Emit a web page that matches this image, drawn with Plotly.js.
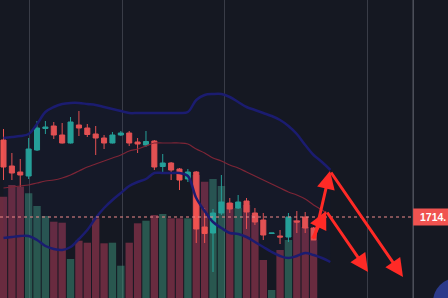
<!DOCTYPE html>
<html><head><meta charset="utf-8">
<script src="https://cdn.plot.ly/plotly-3.0.1.min.js"></script>
<style>html,body{margin:0;padding:0;background:#151822;overflow:hidden}#chart{width:448px;height:298px}</style>
</head><body><div id="chart"></div>
<script>
// candle index (time slots)
const candleIdx = [0,1,2,3,4,5,6,7,8,9,10,11,12,13,14,15,16,17,18,19,20,21,22,23,24,25,26,27,28,29,30,31,32,33,34,35,36,37];
const opens  = [1753,1740,1737,1735,1748,1758.75,1760,1755.5,1751.5,1760.5,1759,1756,1754,1751.5,1755.5,1756.5,1752,1750.5,1752.5,1739.75,1741.5,1738.5,1733.5,1737,1709.5,1706.5,1716.5,1721.5,1719,1722.5,1716.5,1713,1706.25,1705,1704.5,1712.5,1714.5,1709];
const highs  = [1758.5,1746.5,1743.5,1754,1762.5,1762.5,1762,1761.5,1764.5,1767.5,1761,1760,1755.5,1757,1757.5,1757.5,1754,1757.5,1753,1746,1742,1739,1738.5,1737.5,1719,1718.5,1735.5,1724,1725.5,1724,1719,1716.5,1706.5,1708,1716.5,1717.5,1717,1709.5];
const lows   = [1733,1733,1729.5,1733.5,1747.5,1756,1753.5,1751.25,1751.25,1755,1754.5,1745.5,1748.5,1751.25,1755,1750,1746.5,1749.5,1738,1737,1733,1728,1732,1701.5,1701.5,1687,1715.5,1716.5,1718.5,1708.5,1710.5,1703,1706,1701,1702,1706.5,1706.5,1703];
const closes = [1739.5,1736.5,1735.5,1748.5,1759,1759.5,1755.5,1751.5,1762,1759,1755.75,1754,1751.5,1755.5,1756.5,1751.5,1751,1752.25,1739.5,1741.5,1738,1733,1737,1708.5,1706.25,1716.5,1722,1718.5,1722,1717,1712,1705.5,1706.5,1704.5,1714.5,1712,1709,1703];
const volumes = [20260,22600,22260,20940,18400,16400,15260,15060,7800,11460,11060,15940,10940,11060,6460,11060,14940,15460,16600,16800,15940,15940,15940,24600,23260,23800,22400,19000,18000,18600,16600,7600,1600,9600,11600,15600,14200,11600];
// Bollinger bands (extend slightly past the last candle)
const bandIdx = [0,1,2,3,4,5,6,7,8,9,10,11,12,13,14,15,16,17,18,19,20,21,22,23,24,25,26,27,28,29,30,31,32,33,34,35,36,37,38,39];
const upperBand  = [1754,1754.5,1755,1756,1761,1767,1769.5,1771,1771.5,1771.5,1771,1770.5,1769.5,1768.5,1767.5,1766.5,1766.5,1766.5,1766.5,1766.5,1766.5,1766.5,1767,1773,1775.5,1776,1776,1774.5,1772,1769.5,1768,1766.5,1765,1763,1760,1756,1750.5,1745.5,1742,1738];
const middleBand = [1729,1729.5,1730,1730.5,1731.5,1732.5,1733,1734,1735.5,1737.5,1739.5,1741,1742.5,1744,1745.5,1747.5,1748.5,1750,1751.5,1751.5,1751.5,1751.5,1751,1748.5,1746.5,1744,1742.5,1740.5,1739,1737,1735,1733,1731,1729,1727,1725.5,1723.5,1720.5,1718,1715];
const lowerBand  = [1704,1704.5,1705,1705,1703,1700,1698.5,1698,1699.5,1703.5,1708,1714,1719,1723,1726.5,1730,1732,1733.5,1736.5,1736.5,1736.5,1736.5,1735,1724,1717.5,1712,1709,1706.5,1706,1704.5,1702,1699.5,1697,1695,1694,1695,1696.5,1695.5,1694,1692];
const gridTicks = [3.16, 14.22, 26.35, 43.41];
const currentPrice = 1714.5;
const priceLabel = '1714.';
// hand-drawn arrows: [tailX, tailY, headX, headY]
const arrows = [
  [37.05,1703,38.96,1737.5],
  [38.96,1737.5,47.67,1684.5],
  [36.8,1703,38.5,1717.5],
  [38.5,1717.5,43.5,1687]
];

const UP='#26a69a', DOWN='#ef5350';
const volColors = closes.map((c,i)=> c>=opens[i] ? 'rgba(62,150,124,0.5)' : 'rgba(190,62,92,0.5)');

const traces = [
  {type:'bar', x:candleIdx, y:volumes, width:0.88, marker:{color:volColors, line:{width:0}}, xaxis:'x', yaxis:'y', hoverinfo:'skip'},
  {type:'scatter', mode:'lines', x:bandIdx, y:upperBand, line:{color:'#1b1c70', width:2.5, shape:'spline'}, xaxis:'x', yaxis:'y2', hoverinfo:'skip'},
  {type:'scatter', mode:'lines', x:bandIdx, y:lowerBand, line:{color:'#1b1c70', width:2.5, shape:'spline'}, fill:'tonexty', fillcolor:'rgba(40,45,140,0.06)', xaxis:'x', yaxis:'y2', hoverinfo:'skip'},
  {type:'scatter', mode:'lines', x:bandIdx, y:middleBand, line:{color:'#7d2536', width:1.2, shape:'spline'}, xaxis:'x', yaxis:'y2', hoverinfo:'skip'},
  {type:'candlestick', x:candleIdx, open:opens, high:highs, low:lows, close:closes, xaxis:'x', yaxis:'y2',
   increasing:{line:{color:UP, width:1}, fillcolor:UP}, decreasing:{line:{color:DOWN, width:1}, fillcolor:DOWN}, whiskerwidth:0, hoverinfo:'skip'}
];

const layout = {
  width:448, height:298, margin:{l:0,r:0,t:0,b:0},
  paper_bgcolor:'#151822', plot_bgcolor:'#151822', showlegend:false, boxgap:0.14,
  xaxis:{range:[-0.4177,53.04], tickvals:gridTicks, showgrid:true, gridcolor:'#393c47', gridwidth:1, showticklabels:false, ticks:'', zeroline:false, showline:false, rangeslider:{visible:false}, fixedrange:true},
  yaxis:{range:[0,59600], showgrid:false, zeroline:false, showticklabels:false, ticks:'', fixedrange:true},
  yaxis2:{range:[1674,1823], overlaying:'y', side:'right', showgrid:false, zeroline:false, showticklabels:false, ticks:'', fixedrange:true},
  shapes:[
    {type:'line', xref:'paper', yref:'paper', x0:0.9222, x1:0.9222, y0:0, y1:1, line:{color:'#6a6d78', width:1}, layer:'below'},
    {type:'line', xref:'paper', yref:'y2', x0:0, x1:0.9222, y0:currentPrice, y1:currentPrice, line:{color:'#ee8a8a', width:1, dash:'dot'}, layer:'above'},
    {type:'rect', xref:'paper', yref:'y2', x0:0.9222, x1:1.05, ysizemode:'pixel', yanchor:currentPrice, y0:-8.5, y1:8.5, fillcolor:'#f05350', line:{width:0}, layer:'above'},
    {type:'circle', xref:'paper', yref:'paper', xsizemode:'pixel', ysizemode:'pixel', xanchor:1, yanchor:0, x0:-15, x1:33, y0:-28, y1:20, fillcolor:'#2b3a8a', line:{width:0}, layer:'above'}
  ],
  annotations:[
    {xref:'paper', yref:'y2', x:0.9325, y:currentPrice, xanchor:'left', yanchor:'middle', text:'<b>'+priceLabel+'</b>', showarrow:false, font:{family:'Liberation Sans, Arial, sans-serif', size:10.5, color:'#ffffff'}}
  ].concat(arrows.map(a=>({x:a[2], y:a[3], ax:a[0], ay:a[1], xref:'x', yref:'y2', axref:'x', ayref:'y2', text:'', showarrow:true, arrowhead:2, arrowsize:1.2, arrowwidth:3, arrowcolor:'#ff2a26', standoff:0, startstandoff:0})))
};

Plotly.newPlot('chart', traces, layout, {staticPlot:true, displayModeBar:false});
</script>
</body></html>
